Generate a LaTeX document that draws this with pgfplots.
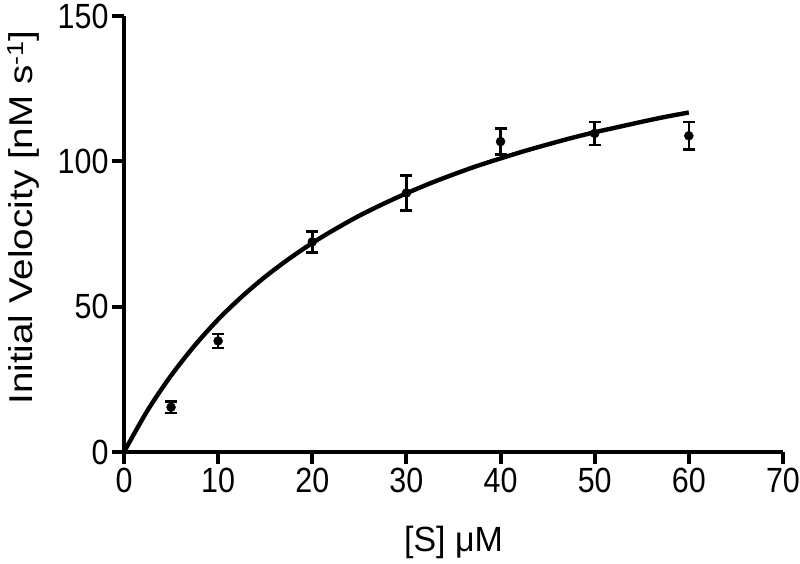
\documentclass[border=0pt]{standalone}
\usepackage{fontspec}
\setmainfont{Liberation Sans}
\newfontfamily\tickfont{Liberation Sans}[FakeStretch=0.87]
\newfontfamily\ylabfont{Liberation Sans}[FakeStretch=1.17]
\newfontfamily\xlabfont{Liberation Sans}[FakeStretch=0.97]
\usepackage{pgfplots}
\pgfplotsset{compat=1.18}
\begin{document}
\begin{tikzpicture}
\begin{axis}[scale only axis,width=659pt,height=436pt,
  xmin=0,xmax=70,ymin=0,ymax=150,
  xtick={0,10,...,70},ytick={0,50,100,150},
  axis x line*=bottom,axis y line*=left,
  axis line style={line width=4.5pt,-},
  tick style={line width=4pt,black},
  tick align=outside,major tick length=12pt,
  /pgf/number format/assume math mode=true,
  tick label style={font=\tickfont\fontsize{35}{40}\selectfont},
  xticklabel style={yshift=-1pt},
  xlabel={[S] μM},ylabel={Initial Velocity [nM s\textsuperscript{-1}]},
  xlabel style={font=\xlabfont\fontsize{35}{40}\selectfont,at={(axis description cs:0.5,-0.207)},anchor=center},
  ylabel style={font=\ylabfont\fontsize{33}{38}\selectfont,at={(axis description cs:-0.152,0.538)},anchor=center},
  clip=false]
\addplot[black,line width=4.4pt,smooth] coordinates {
(0,0) (2.5,14.3) (5,26.3) (7.5,36.6) (10,45.6) (12.5,53.4) (15,60.3)
(17.5,66.4) (20,71.9) (22.5,76.8) (25,81.3) (27.5,85.3) (30,89.0)
(32.5,92.4) (35,95.5) (37.5,98.4) (40,101.0) (42.5,103.5) (45,105.8)
(47.5,108.0) (50,110.0) (52.5,111.8) (55,113.6) (57.5,115.3) (60,116.8)};
\addplot[black,only marks,mark=*,mark size=4.5pt,
  error bars/.cd,y dir=both,y explicit,
  error bar style={line width=2.5pt},error mark options={rotate=90,mark size=6pt,line width=2.5pt}]
  table[x=s,y=v,y error=e] {
s v e
5 15.4 1.9
10 38.2 2.4
20 72.3 3.6
30 89.1 6.1
40 106.8 4.5
50 109.6 4.0
60 108.8 4.8
};
\end{axis}
\pgfresetboundingbox
\path[use as bounding box] ([shift={(-124pt,-112pt)}]current axis.south west) rectangle ([shift={(17pt,16pt)}]current axis.north east);
\end{tikzpicture}
\end{document}
